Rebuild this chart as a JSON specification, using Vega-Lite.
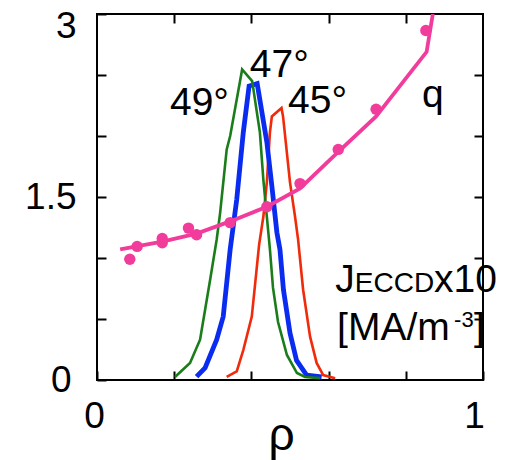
{
  "$schema": "https://vega.github.io/schema/vega-lite/v6.json",
  "width": 386,
  "height": 366,
  "autosize": "none",
  "padding": {"left": 97, "top": 14, "right": 40, "bottom": 80},
  "background": "white",
  "config": {
    "view": {"stroke": "black", "strokeWidth": 2},
    "font": "Liberation Sans",
    "axis": {"domain": false, "grid": false, "tickColor": "black", "tickWidth": 2, "tickSize": -9, "labelColor": "black", "labelFont": "Liberation Sans", "labelFontSize": 37, "titleFont": "Liberation Sans", "titleColor": "black", "titleFontWeight": "normal"}
  },
  "datasets": {
    "curves": [
      {"series": "49", "rho": 0.202, "j": 0.025}, {"series": "49", "rho": 0.241, "j": 0.14}, {"series": "49", "rho": 0.267, "j": 0.33}, {"series": "49", "rho": 0.293, "j": 0.82}, {"series": "49", "rho": 0.31, "j": 1.15}, {"series": "49", "rho": 0.319, "j": 1.37}, {"series": "49", "rho": 0.336, "j": 1.89}, {"series": "49", "rho": 0.345, "j": 2.0}, {"series": "49", "rho": 0.362, "j": 2.3}, {"series": "49", "rho": 0.376, "j": 2.545}, {"series": "49", "rho": 0.402, "j": 2.45}, {"series": "49", "rho": 0.422, "j": 2.03}, {"series": "49", "rho": 0.431, "j": 1.64}, {"series": "49", "rho": 0.44, "j": 1.34}, {"series": "49", "rho": 0.448, "j": 1.07}, {"series": "49", "rho": 0.456, "j": 0.755}, {"series": "49", "rho": 0.469, "j": 0.475}, {"series": "49", "rho": 0.492, "j": 0.205}, {"series": "49", "rho": 0.518, "j": 0.057}, {"series": "49", "rho": 0.539, "j": 0.025}, {"series": "49", "rho": 0.578, "j": 0.015},
      {"series": "47", "rho": 0.258, "j": 0.027}, {"series": "47", "rho": 0.28, "j": 0.1}, {"series": "47", "rho": 0.31, "j": 0.33}, {"series": "47", "rho": 0.327, "j": 0.52}, {"series": "47", "rho": 0.345, "j": 1.07}, {"series": "47", "rho": 0.362, "j": 1.48}, {"series": "47", "rho": 0.379, "j": 2.03}, {"series": "47", "rho": 0.394, "j": 2.41}, {"series": "47", "rho": 0.415, "j": 2.43}, {"series": "47", "rho": 0.44, "j": 1.95}, {"series": "47", "rho": 0.453, "j": 1.59}, {"series": "47", "rho": 0.466, "j": 1.21}, {"series": "47", "rho": 0.474, "j": 1.07}, {"series": "47", "rho": 0.483, "j": 0.74}, {"series": "47", "rho": 0.5, "j": 0.385}, {"series": "47", "rho": 0.517, "j": 0.16}, {"series": "47", "rho": 0.543, "j": 0.04}, {"series": "47", "rho": 0.582, "j": 0.025},
      {"series": "45", "rho": 0.336, "j": 0.025}, {"series": "45", "rho": 0.362, "j": 0.07}, {"series": "45", "rho": 0.379, "j": 0.245}, {"series": "45", "rho": 0.401, "j": 0.52}, {"series": "45", "rho": 0.42, "j": 1.11}, {"series": "45", "rho": 0.431, "j": 1.34}, {"series": "45", "rho": 0.44, "j": 1.62}, {"series": "45", "rho": 0.448, "j": 2.03}, {"series": "45", "rho": 0.453, "j": 2.16}, {"series": "45", "rho": 0.478, "j": 2.23}, {"series": "45", "rho": 0.482, "j": 2.16}, {"series": "45", "rho": 0.5, "j": 1.62}, {"series": "45", "rho": 0.513, "j": 1.34}, {"series": "45", "rho": 0.521, "j": 1.15}, {"series": "45", "rho": 0.534, "j": 0.74}, {"series": "45", "rho": 0.552, "j": 0.355}, {"series": "45", "rho": 0.569, "j": 0.14}, {"series": "45", "rho": 0.586, "j": 0.04}, {"series": "45", "rho": 0.617, "j": 0.015}
    ],
    "qline": [
      {"rho": 0.06, "q": 1.07}, {"rho": 0.169, "q": 1.135}, {"rho": 0.258, "q": 1.2}, {"rho": 0.345, "q": 1.3}, {"rho": 0.44, "q": 1.42}, {"rho": 0.526, "q": 1.57}, {"rho": 0.625, "q": 1.87}, {"rho": 0.723, "q": 2.16}, {"rho": 0.854, "q": 2.69}, {"rho": 0.87, "q": 3.0}
    ],
    "qdots": [
      {"rho": 0.085, "q": 0.99}, {"rho": 0.104, "q": 1.095}, {"rho": 0.169, "q": 1.16}, {"rho": 0.169, "q": 1.125}, {"rho": 0.237, "q": 1.245}, {"rho": 0.258, "q": 1.19}, {"rho": 0.345, "q": 1.29}, {"rho": 0.44, "q": 1.42}, {"rho": 0.526, "q": 1.61}, {"rho": 0.625, "q": 1.89}, {"rho": 0.723, "q": 2.22}, {"rho": 0.852, "q": 2.865}
    ],
    "bigtext": [
      {"rho": 0.189, "val": 2.176, "text": "49°"}, {"rho": 0.396, "val": 2.48, "text": "47°"}, {"rho": 0.495, "val": 2.19, "text": "45°"}, {"rho": 0.842, "val": 2.24, "text": "q"}, {"rho": 0.617, "val": 0.72, "text": "J"}, {"rho": 0.873, "val": 0.72, "text": "x10"}, {"rho": 0.622, "val": 0.33, "text": "[MA/m"}, {"rho": 0.977, "val": 0.33, "text": "]"}
    ],
    "smallcaps": [{"rho": 0.668, "val": 0.72, "text": "ECCD"}],
    "superscript": [{"rho": 0.925, "val": 0.435, "text": "-3"}]
  },
  "layer": [
    {
      "layer": [
        {
          "data": {"name": "curves"},
          "transform": [{"filter": "datum.series == '45'"}],
          "mark": {"type": "line", "color": "#f02a0a", "strokeWidth": 2.6, "clip": true},
          "encoding": {
            "x": {"field": "rho", "type": "quantitative", "scale": {"domain": [0, 1], "nice": false},
              "axis": {"orient": "bottom", "values": [0, 0.2, 0.4, 0.6, 0.8, 1], "labelExpr": "datum.value == 0 ? '0' : datum.value == 1 ? '1' : ''", "labelFlush": false, "labelBaseline": "alphabetic", "labelPadding": 56, "labelOffset": {"condition": {"test": "datum.value == 1", "value": -9}, "value": -3}, "title": "ρ", "titleFontSize": 46, "titleBaseline": "alphabetic", "titleY": 69, "titleX": 184}},
            "y": {"field": "j", "type": "quantitative", "scale": {"domain": [0, 3], "nice": false},
              "axis": {"orient": "left", "values": [0, 0.5, 1, 1.5, 2, 2.5, 3], "labelExpr": "datum.value == 0 ? '0' : datum.value == 1.5 ? '1.5' : datum.value == 3 ? '3' : ''", "labelPadding": {"condition": {"test": "datum.value == 0", "value": 35}, "value": 30}, "labelOffset": {"condition": {"test": "datum.value == 3", "value": -6}, "value": 0}, "labelBaseline": {"condition": {"test": "datum.value == 3", "value": "top"}, "value": "middle"}, "title": null}}
          }
        },
        {
          "data": {"name": "curves"},
          "transform": [{"filter": "datum.series == '47'"}],
          "mark": {"type": "line", "color": "#0a2cf0", "strokeWidth": 4.8, "clip": true},
          "encoding": {"x": {"field": "rho", "type": "quantitative"}, "y": {"field": "j", "type": "quantitative"}}
        },
        {
          "data": {"name": "curves"},
          "transform": [{"filter": "datum.series == '49'"}],
          "mark": {"type": "line", "color": "#1a7d1a", "strokeWidth": 2.6, "clip": true},
          "encoding": {"x": {"field": "rho", "type": "quantitative"}, "y": {"field": "j", "type": "quantitative"}}
        },
        {
          "data": {"name": "qline"},
          "mark": {"type": "line", "color": "#f23c9c", "strokeWidth": 3.8, "clip": true},
          "encoding": {"x": {"field": "rho", "type": "quantitative"}, "y": {"field": "q", "type": "quantitative"}}
        },
        {
          "data": {"name": "qdots"},
          "mark": {"type": "point", "filled": true, "opacity": 1, "color": "#f23c9c", "size": 130},
          "encoding": {"x": {"field": "rho", "type": "quantitative"}, "y": {"field": "q", "type": "quantitative"}}
        },
        {
          "data": {"name": "bigtext"},
          "mark": {"type": "text", "align": "left", "baseline": "alphabetic", "fontSize": 39, "font": "Liberation Sans", "color": "black"},
          "encoding": {"x": {"field": "rho", "type": "quantitative"}, "y": {"field": "val", "type": "quantitative"}, "text": {"field": "text"}}
        },
        {
          "data": {"name": "smallcaps"},
          "mark": {"type": "text", "align": "left", "baseline": "alphabetic", "fontSize": 28, "font": "Liberation Sans", "color": "black"},
          "encoding": {"x": {"field": "rho", "type": "quantitative"}, "y": {"field": "val", "type": "quantitative"}, "text": {"field": "text"}}
        },
        {
          "data": {"name": "superscript"},
          "mark": {"type": "text", "align": "left", "baseline": "alphabetic", "fontSize": 22, "font": "Liberation Sans", "color": "black"},
          "encoding": {"x": {"field": "rho", "type": "quantitative"}, "y": {"field": "val", "type": "quantitative"}, "text": {"field": "text"}}
        }
      ]
    },
    {
      "data": {"name": "qdots"},
      "mark": {"type": "point", "opacity": 0},
      "encoding": {
        "x": {"field": "rho", "type": "quantitative", "axis": {"orient": "top", "values": [0.2, 0.4, 0.6, 0.8], "labels": false, "title": null}},
        "y": {"field": "q", "type": "quantitative", "axis": {"orient": "right", "values": [0.5, 1, 1.5, 2, 2.5], "labels": false, "title": null}}
      }
    }
  ],
  "resolve": {"axis": {"x": "independent", "y": "independent"}}
}
